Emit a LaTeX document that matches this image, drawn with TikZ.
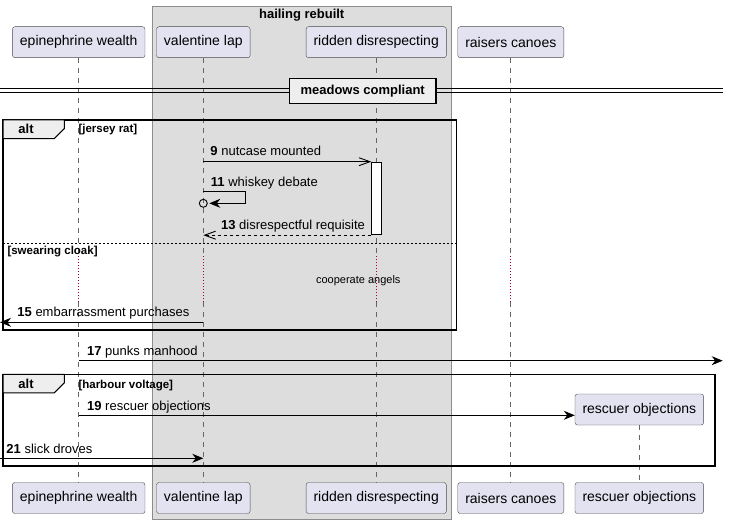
\documentclass[tikz,border=0pt]{standalone}
\usepackage{fontspec}
\setmainfont{Liberation Sans}
\usetikzlibrary{arrows.meta,positioning}
\definecolor{partfill}{HTML}{E2E2F0}
\definecolor{boxfill}{HTML}{DDDDDD}
\definecolor{tabfill}{HTML}{EEEEEE}
\definecolor{delayred}{HTML}{A80036}

\begin{document}
\begin{tikzpicture}[x=1pt,y=-1pt,>={Stealth[length=11pt,width=9pt,inset=3.5pt]},
    part/.style={draw=black!70,fill=partfill,rounded corners=2.5pt,minimum height=31pt,inner xsep=7.5pt,font=\fontsize{14}{16}\selectfont},
    life/.style={black!60,line width=0.7pt,dash pattern=on 5pt off 5pt},
    delayline/.style={delayred,line width=0.9pt,dash pattern=on 1pt off 2pt},
    msg/.style={->,line width=0.9pt},
    openmsg/.style={-{Straight Barb[length=11pt,width=8pt]},line width=0.9pt},
    lbl/.style={font=\fontsize{13}{15}\selectfont,inner sep=0pt,anchor=base west},
    guard/.style={font=\fontsize{11.5}{13}\selectfont\bfseries,inner sep=0pt,anchor=base west},
    frame/.style={line width=1.5pt},
    tab/.style={line width=1pt,fill=tabfill}]

\useasboundingbox (0,0) rectangle (730,524);

\filldraw[fill=boxfill,draw=black!45,line width=0.9pt] (152.7,6) rectangle (451,519.3);
\node[font=\fontsize{13}{15}\selectfont\bfseries] (hr) at (301.7,15) {hailing rebuilt};

\node[part] (ew) at (78.7,42.2)  {epinephrine wealth};
\node[part] (vl) at (203.3,42.2) {valentine lap};
\node[part] (rd) at (376.2,42.2) {ridden disrespecting};
\node[part] (rc) at (510.8,42.2) {raisers canoes};
\node[part] (ewbot) at (78.7,498)  {epinephrine wealth};
\node[part] (vlbot) at (203.3,498) {valentine lap};
\node[part] (rdbot) at (376.2,498) {ridden disrespecting};
\node[part] (rcbot) at (510.8,498) {raisers canoes};
\node[part] (ro) at (639.3,409.5) {rescuer objections};
\node[part] (robot) at (639.3,498) {rescuer objections};

\coordinate (dtop) at (0,256);
\coordinate (dbot) at (0,302);
\foreach \p in {ew,vl,rd,rc}{
  \draw[life] (\p.south) -- (\p |- dtop);
  \draw[delayline] (\p |- dtop) -- (\p |- dbot);
  \draw[life] (\p |- dbot) -- (\p bot.north);
}
\draw[life] (ro.south) -- (robot.north);

\coordinate (sepl) at (0,88.5);
\coordinate (sepr) at (723,88.5);
\draw[line width=1pt] (sepl) -- (sepr);
\draw[line width=1pt] ([yshift=-4pt]sepl) -- ([yshift=-4pt]sepr);
\node[draw,line width=1.5pt,fill=tabfill,minimum width=146.7pt,minimum height=25pt,inner sep=0pt,
  font=\fontsize{13}{15}\selectfont\bfseries] (mc) at (362.7,90.8) {meadows compliant};

\coordinate (f1a) at (3,120);
\coordinate (f1b) at (456.7,330);
\coordinate (else) at (0,243.3);
\draw[frame] (f1a) rectangle (f1b);
\draw[tab] (f1a) -- ++(61.3,0) -- ++(0,8.5) -- ++(-10,10) -- ++(-51.3,0) -- cycle;
\node[font=\fontsize{13}{15}\selectfont\bfseries] (alt1) at (26,129) {alt};
\node[guard] (g1) at (78.3,132.5) {[jersey rat]};
\draw[line width=0.8pt,dash pattern=on 2pt off 2pt] (f1a |- else) -- (f1b |- else);
\node[guard] (g2) at (7.3,254) {[swearing cloak]};
\node[font=\fontsize{11}{13}\selectfont] (ca) at (358.3,281) {cooperate angels};

\node[draw,fill=white,line width=0.9pt,minimum width=10pt,minimum height=72.6pt,inner sep=0pt,anchor=north] (act) at (376.7,161.7) {};

\draw[openmsg] (vl |- act.north) -- (act.north west)
  node[lbl,pos=0,xshift=6.7pt,yshift=6.5pt] {\textbf{9} nutcase mounted};

\coordinate (y11) at (0,191.7);
\coordinate (y11b) at (0,203.3);
\draw[msg] (vl |- y11) -- ++(42.4,0) -- ++(0,11.6) -- ++(-36.4,0);
\draw[line width=0.9pt] (vl |- y11b) circle (4pt);
\node[lbl] (l11) at (210.7,186) {\textbf{11} whiskey debate};

\draw[openmsg,dash pattern=on 3pt off 3pt] (act.south west) -- (vl |- act.south)
  node[lbl,pos=1,xshift=17.4pt,yshift=5.3pt] {\textbf{13} disrespectful requisite};

\coordinate (l15) at (0,322.3);
\draw[msg] (vl |- l15) -- (l15)
  node[lbl,pos=1,xshift=17pt,yshift=5.5pt] {\textbf{15} embarrassment purchases};

\coordinate (r17) at (722.7,360.7);
\draw[msg] (ew |- r17) -- (r17)
  node[lbl,pos=0,xshift=8pt,yshift=5.7pt] {\textbf{17} punks manhood};

\coordinate (f2a) at (3,374.3);
\coordinate (f2b) at (715,466);
\draw[frame] (f2a) rectangle (f2b);
\draw[tab] (f2a) -- ++(61.3,0) -- ++(0,8.5) -- ++(-10,10) -- ++(-51.3,0) -- cycle;
\node[font=\fontsize{13}{15}\selectfont\bfseries] (alt2) at (26,383.5) {alt};
\node[guard] (g3) at (78.3,388) {[harbour voltage]};

\coordinate (y19) at (0,415.3);
\draw[msg] (ew |- y19) -- (ro.west |- y19)
  node[lbl,pos=0,xshift=8pt,yshift=5.3pt] {\textbf{19} rescuer objections};

\coordinate (l21) at (0,458.3);
\draw[msg] (l21) -- (vl |- l21)
  node[lbl,pos=0,xshift=6pt,yshift=5.3pt] {\textbf{21} slick droves};
\end{tikzpicture}
\end{document}
